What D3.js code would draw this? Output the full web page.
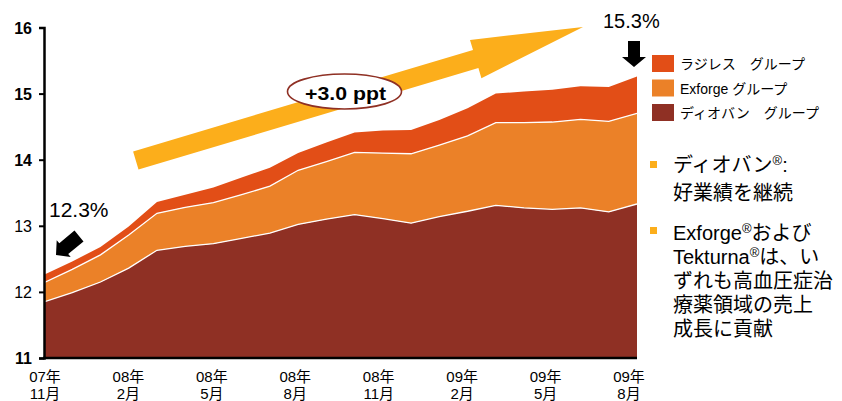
<!DOCTYPE html>
<html>
<head>
<meta charset="utf-8">
<script src="https://cdn.jsdelivr.net/npm/d3@7"></script>
<style>
body { margin: 0; background: #fff; }
text { font-family: "Liberation Sans", Arial, "Noto Sans CJK JP", sans-serif; fill: #000; }
</style>
</head>
<body>
<svg id="chart" width="842" height="401"></svg>
<script>
// monthly share data, 07/11 .. 09/08
var months = ["07/11","07/12","08/01","08/02","08/03","08/04","08/05","08/06","08/07","08/08","08/09",
              "08/10","08/11","08/12","09/01","09/02","09/03","09/04","09/05","09/06","09/07","09/08"];
var diovan  = [11.85,11.99,12.15,12.36,12.63,12.69,12.73,12.81,12.89,13.02,13.10,
               13.17,13.11,13.04,13.14,13.22,13.31,13.27,13.25,13.27,13.21,13.33];
var exforge = [0.29,0.35,0.41,0.50,0.56,0.59,0.62,0.66,0.71,0.82,0.87,
               0.94,0.99,1.05,1.08,1.14,1.25,1.29,1.32,1.34,1.37,1.37];
var rasilez = [0.12,0.12,0.12,0.13,0.17,0.19,0.23,0.26,0.28,0.26,0.29,
               0.30,0.34,0.36,0.38,0.42,0.44,0.47,0.49,0.50,0.52,0.56];

var tickYears  = ["07年","08年","08年","08年","08年","09年","09年","09年"];
var tickMonths = ["11月","2月","5月","8月","11月","2月","5月","8月"];
var yTicks = [11,12,13,14,15,16];

var seriesKeys   = ["dio","exf","ras"];
var seriesNames  = {ras:"ラジレス　グループ", exf:"Exforge グループ", dio:"ディオバン　グループ"};
var seriesColors = {dio:"#8f3024", exf:"#eb8128", ras:"#e24e17"};

var svg = d3.select("#chart");
var plotL = 44, plotR = 637, plotT = 27.5, plotB = 358;

var x = d3.scalePoint().domain(months).range([plotL, plotR]);
var y = d3.scaleLinear().domain([11, 16]).range([plotB, plotT]);

var rows = months.map(function(m, i){
    return {month:m, dio:diovan[i], exf:exforge[i], ras:rasilez[i]};
});
var stack = d3.stack().keys(seriesKeys)(rows);

svg.append("clipPath").attr("id","plot")
   .append("rect").attr("x",plotL).attr("y",0).attr("width",plotR-plotL).attr("height",plotB);

var area = d3.area()
    .x(function(d){ return x(d.data.month); })
    .y0(function(d){ return y(d[0]); })
    .y1(function(d){ return y(d[1]); });

var line = d3.line()
    .x(function(d){ return x(d.data.month); })
    .y(function(d){ return y(d[1]); });

var g = svg.append("g").attr("clip-path","url(#plot)");
g.selectAll("path.layer").data(stack).enter().append("path")
    .attr("class","layer")
    .attr("d", area)
    .attr("fill", function(s){ return seriesColors[s.key]; });

// white seams between layers
g.selectAll("path.seam").data(stack.slice(0,2)).enter().append("path")
    .attr("class","seam")
    .attr("d", line)
    .attr("fill","none")
    .attr("stroke","#fff")
    .attr("stroke-width",1.3);

// y axis
var yAxis = d3.axisLeft(y).tickValues(yTicks).tickSize(5).tickPadding(7).tickFormat(d3.format("d"));
var ya = svg.append("g").attr("transform","translate(" + plotL + ",0)").call(yAxis);
ya.select(".domain").attr("stroke","#000").attr("stroke-width",2.5);
ya.selectAll(".tick line").attr("stroke","#000").attr("stroke-width",2);
ya.selectAll(".tick text")
    .style("font-family",'"Liberation Sans", Arial, sans-serif')
    .style("font-size","16px")
    .style("font-weight", function(d){ return (d == 12 || d == 13) ? "normal" : "bold"; })
    .attr("dy","0.36em");

// x axis baseline
svg.append("line").attr("x1",plotL-1).attr("x2",plotR).attr("y1",plotB).attr("y2",plotB)
   .attr("stroke","#000").attr("stroke-width",2.5);

var xl = d3.scalePoint().domain(d3.range(tickYears.length)).range([45, 629]);
var lab = svg.append("g").selectAll("text").data(tickYears).enter().append("text")
    .attr("text-anchor","middle")
    .attr("x", function(d,i){ return xl(i); })
    .attr("y", 382)
    .style("font-size","15px");
lab.append("tspan").text(function(d){ return d; });
lab.append("tspan").attr("x", function(d,i){ return xl(i); }).attr("dy",17)
    .text(function(d,i){ return tickMonths[i]; });

// block arrow helper
function arrow(x0, y0, x1, y1, sw, hw, hl){
    var dx = x1-x0, dy = y1-y0, L = Math.sqrt(dx*dx+dy*dy);
    var ux = dx/L, uy = dy/L, px = -uy, py = ux;
    var bx = x1 - ux*hl, by = y1 - uy*hl;
    var pts = [
        [x0+px*sw/2, y0+py*sw/2], [bx+px*sw/2, by+py*sw/2], [bx+px*hw/2, by+py*hw/2],
        [x1, y1],
        [bx-px*hw/2, by-py*hw/2], [bx-px*sw/2, by-py*sw/2], [x0-px*sw/2, y0-py*sw/2]
    ];
    return "M" + pts.map(function(p){ return p[0].toFixed(1)+","+p[1].toFixed(1); }).join("L") + "Z";
}

// big trend arrow
svg.append("path").attr("d", arrow(135.8,160.5,583,27,19,40,112)).attr("fill","#fcae1b");

svg.append("ellipse").attr("cx",344.5).attr("cy",91.5).attr("rx",57).attr("ry",17.5)
   .attr("fill","#fff").attr("stroke","#8f3024").attr("stroke-width",1.6);
svg.append("text").attr("x",345.5).attr("y",99.5).attr("text-anchor","middle")
   .attr("textLength",81).attr("lengthAdjust","spacingAndGlyphs")
   .style("font-size","18px").style("font-weight","bold").text("+3.0 ppt");

// start / end annotations
svg.append("text").attr("x",49).attr("y",217).style("font-size","21px").text("12.3%");
svg.append("path").attr("d", arrow(79,236,56,255,14,22,10)).attr("fill","#000");
svg.append("text").attr("x",603).attr("y",28).style("font-size","20px").text("15.3%");
svg.append("path").attr("d", arrow(634,41,634,67,12,24,10)).attr("fill","#000");

// legend
var legendOrder = ["ras","exf","dio"];
var leg = svg.append("g").selectAll("g").data(legendOrder).enter().append("g")
    .attr("transform", function(d,i){ return "translate(652," + (55 + i*24.5) + ")"; });
leg.append("rect").attr("width",22).attr("height",17).attr("fill", function(d){ return seriesColors[d]; });
leg.append("text").attr("x",28).attr("y",14).style("font-size","14px")
   .text(function(d){ return seriesNames[d]; });

// bullet notes
var notes = svg.append("g").style("font-size","20px");
notes.append("rect").attr("x",650).attr("y",161).attr("width",7).attr("height",7).attr("fill","#fcae1b");
notes.append("rect").attr("x",650).attr("y",227).attr("width",7).attr("height",7).attr("fill","#fcae1b");

var t1 = notes.append("text").attr("x",673).attr("y",172);
t1.append("tspan").text("ディオバン");
t1.append("tspan").attr("dy",-7).style("font-size","13px").text("®");
t1.append("tspan").attr("dy",7).text(":");
notes.append("text").attr("x",673).attr("y",200).text("好業績を継続");

var t2 = notes.append("text").attr("x",673).attr("y",240);
t2.append("tspan").text("Exforge");
t2.append("tspan").attr("dy",-7).style("font-size","13px").text("®");
t2.append("tspan").attr("dy",7).text("および");
var t3 = notes.append("text").attr("x",673).attr("y",264);
t3.append("tspan").text("Tekturna");
t3.append("tspan").attr("dy",-7).style("font-size","13px").text("®");
t3.append("tspan").attr("dy",7).text("は、い");
notes.append("text").attr("x",673).attr("y",288).text("ずれも高血圧症治");
notes.append("text").attr("x",673).attr("y",312).text("療薬領域の売上");
notes.append("text").attr("x",673).attr("y",336).text("成長に貢献");
</script>
</body>
</html>
